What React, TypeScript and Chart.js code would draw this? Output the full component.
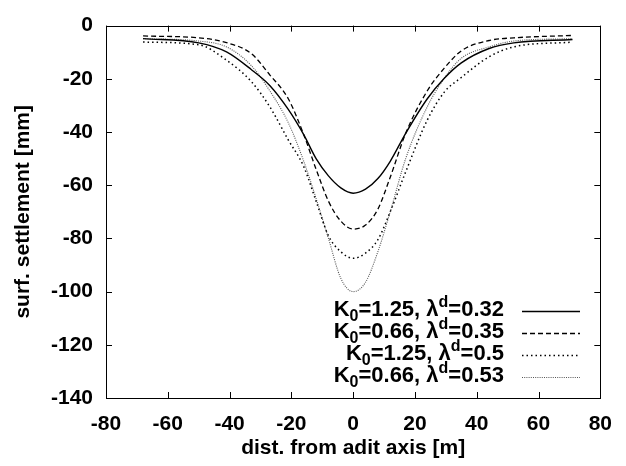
import React, { useEffect, useRef } from 'react';
import { Chart, registerables } from 'chart.js';

Chart.register(...registerables);

// distance from adit axis [m]
const xValues = [-68, -50, -41, -33, -27, -21, -16, -12, -8, -4, 0, 4, 8, 12, 17, 24, 29.5, 35, 44, 52, 71];
// K0=1.25, λd=0.32 (solid)
const settleA = [-4.9, -6.5, -9.9, -16.5, -22.5, -31.5, -41, -50, -56.5, -61, -63, -61.5, -57.5, -51, -40.5, -27.5, -19.8, -14, -8.6, -6.5, -5.2];
// K0=0.66, λd=0.35 (dashed)
const settleB = [-3.9, -4.6, -6.4, -10.5, -18.5, -27.5, -41, -54, -66, -73.5, -76.5, -75, -69, -57, -40.5, -24.5, -16, -9.5, -5.6, -4.6, -3.7];
// K0=1.25, λd=0.5 (coarse dots)
const settleC = [-6.2, -7.2, -13, -21, -30.5, -43, -53, -66, -79, -85, -87.5, -85.5, -80.5, -70, -55, -35.5, -25, -19.5, -11.7, -8, -6.2];
// K0=0.66, λd=0.53 (fine grey dots)
const settleD = [-4.9, -5.8, -8, -15, -24.5, -36.5, -51, -65, -80, -95, -100, -96.5, -85, -70, -50, -30.5, -19.8, -12.3, -8, -5.8, -4.9];

const legendK0 = ['1.25', '0.66', '1.25', '0.66'];
const legendLambda = ['0.32', '0.35', '0.5', '0.53'];

const xTicks = [-80, -60, -40, -20, 0, 20, 40, 60, 80];
const yTicks = [0, -20, -40, -60, -80, -100, -120, -140];

const xTitle = 'dist. from adit axis [m]';
const yTitle = 'surf. settlement [mm]';

const FONT = '"Liberation Sans", Arial, sans-serif';
const FS = 21;

const styles = [
  { color: '#000', width: 1.4, dash: [] as number[] },
  { color: '#000', width: 1.3, dash: [5, 3] },
  { color: '#000', width: 1.5, dash: [1.5, 3] },
  { color: '#555', width: 1.1, dash: [1, 1.2] },
];

const seriesList = [settleA, settleB, settleC, settleD];

const framePlugin = {
  id: 'frame',
  afterDraw(chart: any) {
    const { ctx, chartArea: a, scales } = chart;
    ctx.save();
    ctx.strokeStyle = '#000';
    ctx.lineWidth = 1;
    ctx.setLineDash([]);
    ctx.strokeRect(Math.round(a.left) + 0.5, Math.round(a.top) + 0.5, Math.round(a.right - a.left), Math.round(a.bottom - a.top));
    const tl = 6;
    ctx.beginPath();
    for (const v of xTicks) {
      const px = Math.round(scales.x.getPixelForValue(v)) + 0.5;
      ctx.moveTo(px, a.bottom); ctx.lineTo(px, a.bottom - tl);
      ctx.moveTo(px, a.top); ctx.lineTo(px, a.top + tl);
    }
    for (const v of yTicks) {
      const py = Math.round(scales.y.getPixelForValue(v)) + 0.5;
      ctx.moveTo(a.left, py); ctx.lineTo(a.left + tl, py);
      ctx.moveTo(a.right, py); ctx.lineTo(a.right - tl, py);
    }
    ctx.stroke();

    // axis titles
    ctx.fillStyle = '#000';
    ctx.font = `bold ${FS}px ${FONT}`;
    ctx.textAlign = 'center';
    ctx.textBaseline = 'middle';
    ctx.fillText(xTitle, (a.left + a.right) / 2, 448);
    ctx.save();
    ctx.translate(23, (a.top + a.bottom) / 2);
    ctx.rotate(-Math.PI / 2);
    ctx.fillText(yTitle, 0, 0);
    ctx.restore();

    // legend
    const rightEdge = 504;
    const baselines = [316, 338, 360, 382];
    const mainFont = `bold 22px ${FONT}`;
    const smallFont = `bold 16px ${FONT}`;
    ctx.textBaseline = 'alphabetic';
    ctx.textAlign = 'left';
    for (let i = 0; i < 4; i++) {
      const segs = [
        { t: 'K', f: mainFont, dy: 0 },
        { t: '0', f: smallFont, dy: 5 },
        { t: `=${legendK0[i]}, λ`, f: mainFont, dy: 0 },
        { t: 'd', f: smallFont, dy: -9 },
        { t: `=${legendLambda[i]}`, f: mainFont, dy: 0 },
      ];
      let total = 0;
      for (const s of segs) { ctx.font = s.f; total += ctx.measureText(s.t).width; }
      let x = rightEdge - total;
      for (const s of segs) {
        ctx.font = s.f;
        ctx.fillText(s.t, x, baselines[i] + s.dy);
        x += ctx.measureText(s.t).width;
      }
      const st = styles[i];
      ctx.strokeStyle = st.color;
      ctx.lineWidth = st.width;
      ctx.setLineDash(st.dash);
      ctx.beginPath();
      const ly = baselines[i] - 5 + 0.5;
      ctx.moveTo(522, ly); ctx.lineTo(580, ly);
      ctx.stroke();
    }
    ctx.restore();
  },
};

export default function App() {
  const ref = useRef<HTMLCanvasElement | null>(null);
  useEffect(() => {
    document.body.style.margin = '0';
    if (!ref.current) return;
    const chart = new Chart(ref.current, {
      type: 'line',
      data: {
        datasets: seriesList.map((ys, i) => ({
          label: `K0=${legendK0[i]}, λd=${legendLambda[i]}`,
          data: xValues.map((x, j) => ({ x, y: ys[j] })),
          borderColor: styles[i].color,
          borderWidth: styles[i].width,
          borderDash: styles[i].dash,
          pointRadius: 0,
          fill: false,
          cubicInterpolationMode: 'monotone' as const,
        })),
      },
      options: {
        animation: false,
        responsive: false,
        devicePixelRatio: 1,
        layout: { padding: { left: 0, top: 20, right: 18, bottom: 0 } },
        plugins: { legend: { display: false }, tooltip: { enabled: false } },
        scales: {
          x: {
            type: 'linear',
            min: -80,
            max: 80,
            afterFit: (s: any) => { s.height = 68; },
            afterBuildTicks: (s: any) => { s.ticks = xTicks.map((v) => ({ value: v })); },
            grid: { display: false, drawTicks: false },
            border: { display: false },
            ticks: {
              padding: 14,
              color: '#000',
              maxRotation: 0,
              font: { family: FONT, size: FS, weight: 'bold' },
              callback: (v: any) => String(v),
            },
          },
          y: {
            type: 'linear',
            min: -140,
            max: 0,
            afterFit: (s: any) => { s.width = 106; },
            afterBuildTicks: (s: any) => { s.ticks = yTicks.map((v) => ({ value: v })); },
            grid: { display: false, drawTicks: false },
            border: { display: false },
            ticks: {
              padding: 13,
              color: '#000',
              font: { family: FONT, size: FS, weight: 'bold' },
              callback: (v: any) => String(v),
            },
          },
        },
      },
      plugins: [framePlugin],
    });
    return () => chart.destroy();
  }, []);
  return (
    <div style={{ position: 'absolute', left: 0, top: 0, width: 626, height: 466, background: '#fff' }}>
      <canvas ref={ref} width={626} height={466} style={{ width: 626, height: 466 }} />
    </div>
  );
}
